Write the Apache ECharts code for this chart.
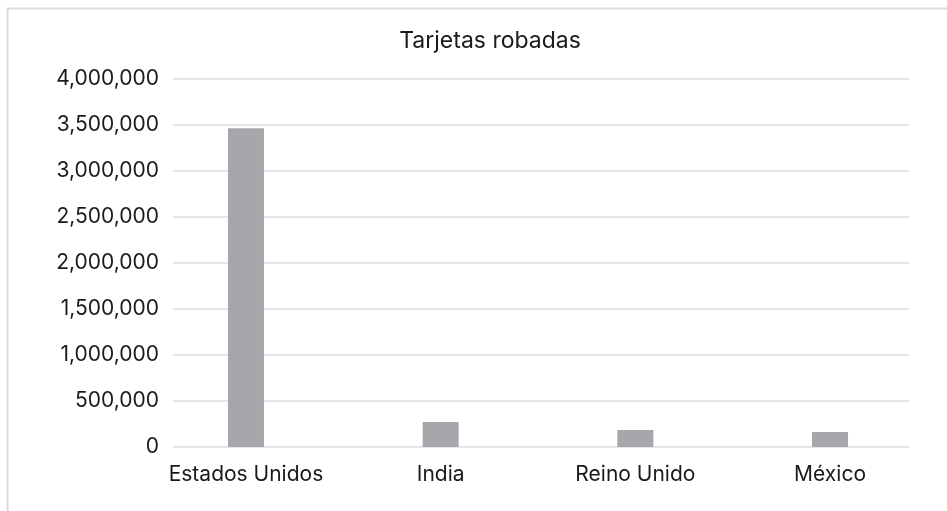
<!DOCTYPE html>
<html>
<head>
<meta charset="utf-8">
<script src="https://cdn.jsdelivr.net/npm/echarts@6/dist/echarts.min.js"></script>
<style>html,body{margin:0;padding:0;background:#fff;}#c{width:947px;height:511px;}</style>
</head>
<body>
<div id="c"></div>
<script>
var titleText = 'Tarjetas robadas';
var categories = ['Estados Unidos', 'India', 'Reino Unido', 'México'];
var values = [3465000, 272000, 185000, 163000];
var yMin = 0, yMax = 4000000, yInterval = 500000;

var chart = echarts.init(document.getElementById('c'), null, {renderer: 'canvas'});
var font = 'Inter, "Noto Sans", sans-serif';
chart.setOption({
  animation: false,
  backgroundColor: '#ffffff',
  title: {
    text: titleText, left: 485, top: 25, textAlign: 'center',
    textStyle: {fontFamily: font, fontSize: 23, fontWeight: 'normal', color: '#1a1a1a'}
  },
  graphic: [{
    type: 'polyline', silent: true,
    shape: {points: [[7.5, 515], [7.5, 8.5], [960, 8.5]]},
    style: {stroke: '#dcdcdf', lineWidth: 2, fill: null}
  }],
  grid: [
    {left: 173, right: 38, top: 79, bottom: 64},
    {left: 148.6, right: 19.6, top: 79, bottom: 64}
  ],
  xAxis: [
    {type: 'category', gridIndex: 0, data: categories, show: false},
    {type: 'category', gridIndex: 1, data: categories,
     axisLine: {show: false}, axisTick: {show: false},
     axisLabel: {interval: 0, fontFamily: font, fontSize: 21, color: '#1a1a1a', margin: 17}}
  ],
  yAxis: [
    {type: 'value', gridIndex: 0, min: yMin, max: yMax, interval: yInterval,
     axisLine: {show: false}, axisTick: {show: false},
     axisLabel: {fontFamily: font, fontSize: 21, color: '#1a1a1a', margin: 14,
       formatter: function (v) { return v.toLocaleString('en-US'); }},
     splitLine: {lineStyle: {color: '#e4e4e9', width: 2}}},
    {type: 'value', gridIndex: 1, min: yMin, max: yMax, interval: yInterval, show: false,
     splitLine: {show: false}}
  ],
  series: [{
    type: 'bar', xAxisIndex: 1, yAxisIndex: 1, data: values, barWidth: 36,
    itemStyle: {color: '#a7a6ab'}
  }]
});
</script>
</body>
</html>
